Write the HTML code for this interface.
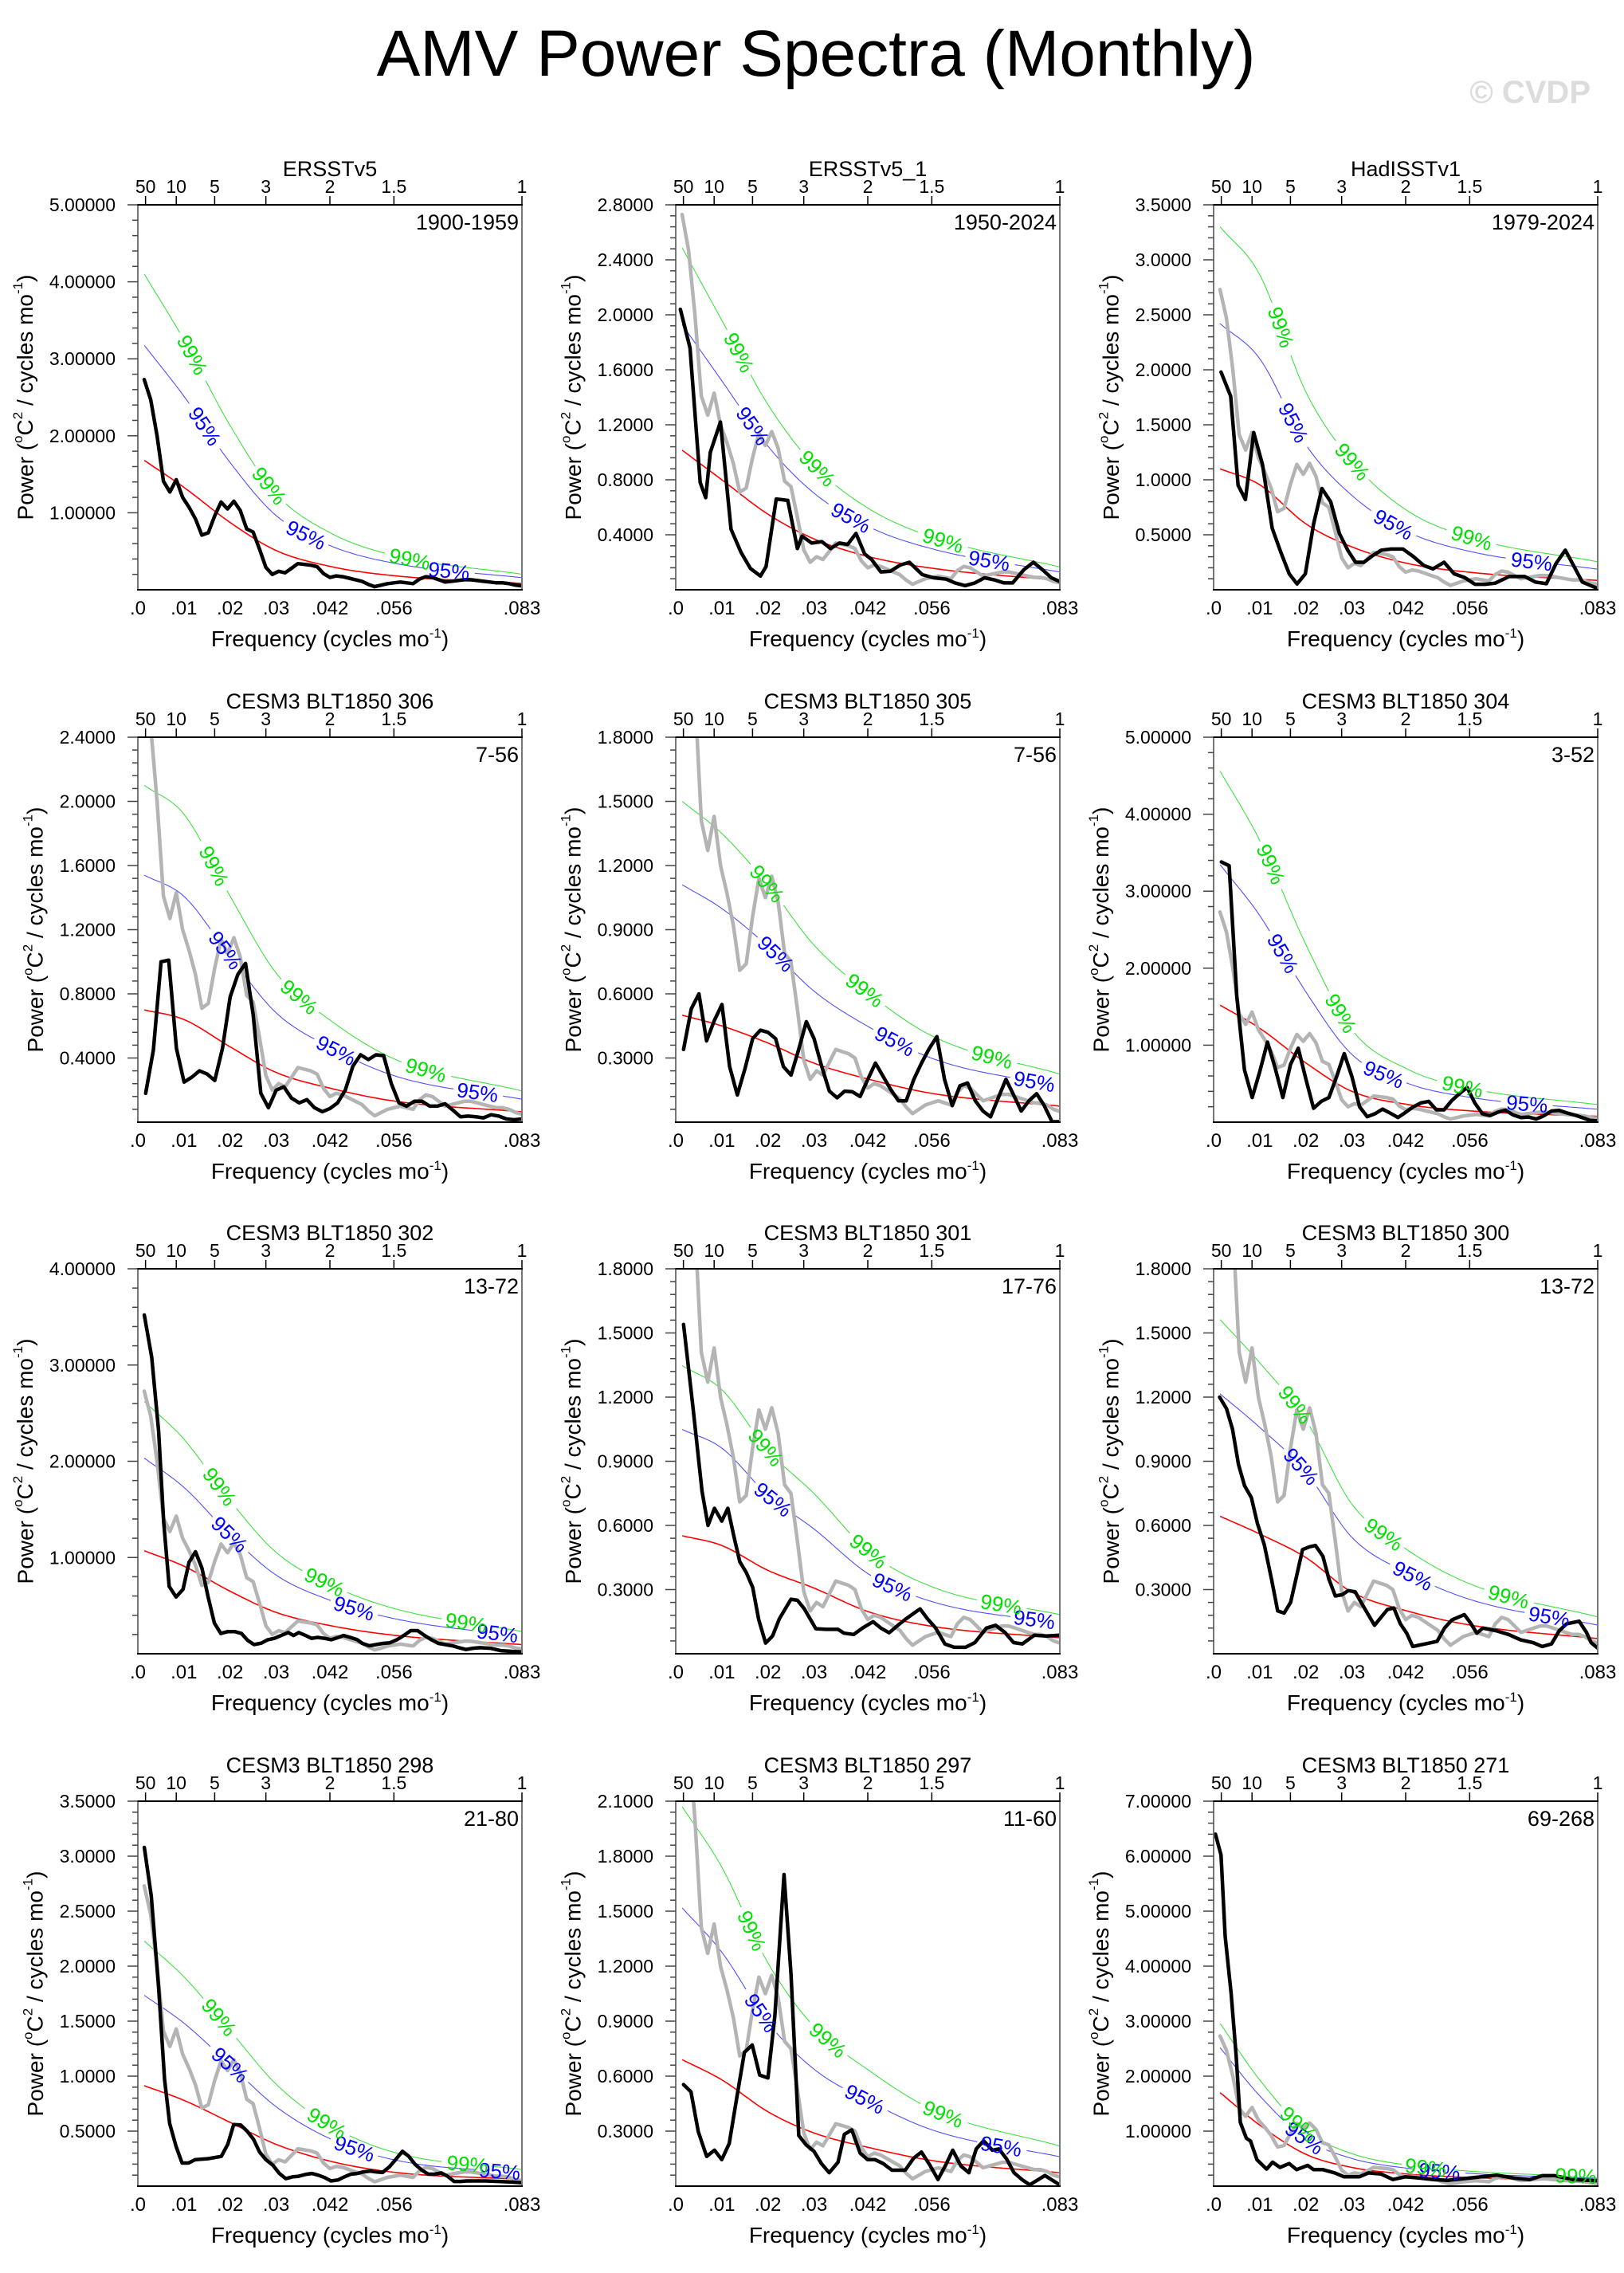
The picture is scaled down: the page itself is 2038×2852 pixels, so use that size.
<!DOCTYPE html>
<html><head><meta charset="utf-8"><title>AMV Power Spectra (Monthly)</title>
<style>
html,body{margin:0;padding:0;background:#fff;}
svg{display:block;font-family:"Liberation Sans",Arial,sans-serif;}
</style></head>
<body>
<svg id="chart" xmlns="http://www.w3.org/2000/svg" width="2038" height="2852" viewBox="0 0 2038 2852">
<rect x="0" y="0" width="2038" height="2852" fill="#fff"/>
<text x="1024" y="95" font-size="82" text-anchor="middle" fill="#000">AMV Power Spectra (Monthly)</text>
<text x="1996" y="129" font-size="40" font-weight="bold" text-anchor="end" fill="#dcdcdc">© CVDP</text>
</svg>
<script>
function linspace(a,b,n){const r=[];for(let i=0;i<n;i++)r.push(a+(b-a)*i/(n-1));return r;}

const panelNames=["ERSSTv5","ERSSTv5_1","HadISSTv1","CESM3 BLT1850 306","CESM3 BLT1850 305","CESM3 BLT1850 304","CESM3 BLT1850 302","CESM3 BLT1850 301","CESM3 BLT1850 300","CESM3 BLT1850 298","CESM3 BLT1850 297","CESM3 BLT1850 271"];
const panelYears=["1900-1959","1950-2024","1979-2024","7-56","7-56","3-52","13-72","17-76","13-72","21-80","11-60","69-268"];
const yMaxes=[5,2.8,3.5,2.4,1.8,5,4,1.8,1.8,3.5,2.1,7];
const ySteps=[1,0.4,0.5,0.4,0.3,1,1,0.3,0.3,0.5,0.3,1];
const yDecimals=[5,4,4,4,4,5,5,4,4,4,4,5];
const topPeriods=[50,10,5,3,2,1.5,1];
const bottomTickVals=[0,0.01,0.02,0.03,1/24,1/18,1/12];
const bottomTickLabels=[".0",".01",".02",".03",".042",".056",".083"];

const redAnchorFreqs=[0.0014,0.01,0.02,0.03,0.042,0.056,0.0833];
const redLevels=[
 [1.68,1.33,0.875,0.51,0.30,0.18,0.083],
 [1.015,0.80,0.55,0.37,0.24,0.155,0.068],
 [1.10,0.955,0.60,0.39,0.24,0.157,0.085],
 [0.70,0.64,0.47,0.31,0.21,0.13,0.065],
 [0.50,0.45,0.37,0.276,0.20,0.133,0.075],
 [1.52,1.22,0.77,0.40,0.23,0.145,0.076],
 [1.07,0.91,0.65,0.43,0.29,0.19,0.095],
 [0.552,0.506,0.39,0.307,0.195,0.127,0.075],
 [0.643,0.56,0.45,0.288,0.20,0.133,0.071],
 [0.913,0.78,0.58,0.38,0.224,0.124,0.062],
 [0.69,0.58,0.406,0.29,0.21,0.138,0.073],
 [1.70,1.11,0.58,0.34,0.22,0.155,0.097]
];
const ratio95=[1.89,1.9,2.2,2.2,2.22,2.2,1.9,1.9,1.89,1.9,2.2,1.48];
const ratio99=[2.44,2.45,3.0,3.0,3.0,3.0,2.45,2.44,2.43,2.44,3.0,1.74];
const label99Freqs=[[0.0118,0.0285,0.059],[0.0137,0.0307,0.058],[0.0146,0.0301,0.056],[0.0165,0.035,0.0625],[0.0198,0.041,0.0686],[0.0124,0.0276,0.054],[0.0177,0.0405,0.0712],[0.0195,0.0418,0.0706],[0.0177,0.0369,0.064],[0.0176,0.041,0.0715],[0.0165,0.033,0.058],[0.0184,0.046,0.0786]];
const label95Freqs=[[0.0145,0.0365,0.0675],[0.0167,0.038,0.068],[0.0173,0.039,0.069],[0.019,0.043,0.0737],[0.0217,0.0475,0.0778],[0.015,0.0369,0.068],[0.0199,0.0469,0.078],[0.0211,0.047,0.0778],[0.019,0.0432,0.0728],[0.02,0.047,0.0785],[0.0185,0.041,0.0706],[0.0197,0.049,0.083]];

const obsFreq=linspace(1/720,60/720,60);
const obsPow=[2.73,2.47,2.0,1.41,1.27,1.43,1.2,1.07,0.92,0.71,0.74,0.96,1.14,1.05,1.15,1.03,0.79,0.75,0.53,0.29,0.2,0.24,0.22,0.28,0.34,0.33,0.32,0.3,0.21,0.16,0.18,0.17,0.15,0.13,0.11,0.07,0.04,0.06,0.08,0.09,0.1,0.09,0.08,0.14,0.17,0.16,0.13,0.1,0.11,0.12,0.13,0.13,0.12,0.11,0.1,0.09,0.09,0.08,0.06,0.05];

const freqP2=[.001,.0031,.0053,.0065,.0075,.0097,.012,.0142,.0162,.0184,.0196,.0218,.0243,.0264,.0274,.0295,.0317,.0336,.0355,.0373,.0391,.041,.0425,.0445,.0466,.0487,.0507,.0535,.056,.0587,.0606,.0628,.0649,.067,.069,.0712,.0731,.0755,.0776,.0796,.0815,.0833];
const powP2=[2.04,1.76,.78,.67,1.0,1.22,.44,.27,.155,.1,.17,.66,.65,.3,.39,.34,.35,.3,.34,.33,.41,.26,.22,.13,.135,.18,.2,.11,.087,.077,.05,.03,.05,.087,.073,.05,.05,.145,.2,.145,.087,.06];
const freqP3=[.0016,.0037,.0053,.0069,.0087,.0106,.0127,.0146,.0164,.0181,.0199,.0217,.0235,.0254,.0273,.0291,.0308,.0326,.0345,.0364,.0385,.0411,.0434,.0456,.0476,.05,.0522,.0545,.0567,.0589,.0611,.0641,.0675,.0698,.0722,.0743,.0763,.0781,.08,.0833];
const powP3=[1.98,1.76,.95,.82,1.43,1.14,.56,.34,.145,.053,.145,.6,.92,.80,.51,.36,.25,.25,.31,.36,.37,.37,.30,.22,.19,.25,.145,.11,.05,.05,.06,.12,.12,.07,.055,.24,.36,.22,.07,.012];
const freqP4=linspace(.0017,.0833,50);
const powP4=[.18,.45,1.0,1.01,.46,.25,.28,.32,.30,.26,.46,.78,.92,.99,.67,.18,.09,.2,.22,.15,.12,.14,.09,.065,.085,.12,.2,.35,.42,.39,.42,.415,.24,.12,.1,.13,.13,.1,.1,.115,.076,.034,.038,.034,.027,.046,.038,.02,.015,.02];
const freqP5=linspace(.0017,.0833,50);
const powP5=[.34,.53,.60,.38,.475,.55,.26,.127,.25,.39,.43,.42,.39,.26,.22,.34,.47,.39,.26,.145,.114,.145,.142,.12,.2,.276,.214,.152,.1,.1,.2,.276,.344,.40,.2,.077,.17,.183,.1,.052,.025,.114,.2,.127,.052,.1,.133,.077,.002,.002];
const freqP6=linspace(.0017,.0833,50);
const powP6=[3.38,3.33,1.63,.68,.32,.66,1.04,.70,.32,.75,.96,.56,.18,.27,.32,.59,.89,.59,.2,.07,.11,.17,.117,.06,.128,.2,.25,.27,.16,.16,.28,.37,.45,.25,.11,.086,.128,.155,.093,.06,.066,.04,.083,.145,.152,.12,.093,.06,.024,.017];
const freqP7=[.0014,.003,.0045,.0056,.0068,.0083,.0098,.0111,.0125,.0139,.0152,.0166,.018,.0195,.021,.0225,.0238,.0252,.0268,.0282,.0296,.0311,.0326,.0338,.0349,.0364,.0377,.039,.0405,.042,.0435,.0446,.0461,.0476,.0487,.0502,.0517,.0532,.0547,.0562,.0577,.0592,.0607,.0622,.0637,.0652,.0667,.0682,.0697,.0712,.0727,.0742,.0765,.0787,.081,.0833];
const powP7=[3.52,3.08,2.32,1.37,.70,.59,.67,.95,1.06,.89,.6,.32,.21,.23,.23,.21,.14,.095,.11,.146,.16,.19,.22,.19,.22,.19,.16,.17,.16,.146,.17,.19,.17,.146,.108,.083,.095,.108,.114,.146,.19,.24,.24,.19,.146,.108,.095,.083,.063,.044,.057,.063,.057,.032,.025,.019];
const freqP8=[.0017,.0037,.0057,.007,.0084,.01,.0113,.0126,.0139,.0153,.0167,.018,.0195,.021,.0225,.025,.0264,.0279,.0304,.0327,.0352,.0365,.0386,.0405,.0428,.0445,.0463,.0482,.05,.053,.0546,.0564,.0584,.0604,.0629,.0649,.0674,.0694,.0714,.0733,.0752,.0778,.0804,.0833];
const powP8=[1.54,1.16,.76,.60,.68,.62,.68,.55,.43,.38,.31,.16,.05,.083,.164,.255,.25,.21,.117,.114,.114,.096,.09,.12,.15,.12,.098,.133,.164,.21,.164,.12,.046,.03,.03,.052,.12,.133,.1,.052,.046,.087,.083,.087];
const freqP9=[.0013,.0028,.0041,.0054,.0067,.0082,.0095,.011,.0126,.0139,.0153,.0167,.018,.0193,.0208,.0221,.0237,.025,.0264,.0279,.0292,.0307,.032,.0349,.0377,.0391,.0405,.0419,.0432,.0459,.0485,.0501,.0517,.0544,.0557,.0571,.0584,.0612,.064,.0666,.0693,.0713,.0733,.075,.0766,.0793,.0809,.0819,.0833];
const powP9=[1.2,1.146,1.05,.885,.786,.73,.61,.51,.344,.2,.19,.24,.363,.487,.50,.506,.456,.35,.27,.276,.295,.29,.24,.133,.207,.214,.14,.096,.034,.046,.058,.12,.158,.183,.145,.096,.12,.108,.09,.065,.052,.034,.046,.108,.14,.152,.1,.052,.027];
const freqP10=[.0014,.0029,.0045,.0058,.0069,.0083,.0096,.011,.0124,.0153,.0181,.0195,.0208,.0223,.0237,.0251,.0264,.0278,.0293,.0307,.0321,.0335,.0349,.0363,.0377,.0391,.0405,.0419,.0434,.0448,.0462,.0476,.049,.0504,.0517,.0531,.0546,.056,.0574,.0588,.0601,.0616,.063,.0644,.0658,.0672,.0686,.07,.0714,.0728,.0755,.0783,.0811,.0833];
const powP10=[3.08,2.64,1.81,.97,.57,.36,.21,.21,.24,.25,.27,.38,.56,.556,.50,.425,.31,.24,.19,.115,.068,.084,.09,.106,.115,.1,.078,.047,.056,.084,.109,.115,.13,.137,.13,.124,.177,.245,.317,.27,.2,.146,.109,.109,.12,.09,.043,.043,.047,.047,.047,.043,.037,.031];
const freqP11=[.0017,.0033,.0049,.0067,.0084,.01,.0116,.0133,.0149,.0166,.0182,.02,.0215,.0235,.025,.0267,.0283,.03,.0316,.0333,.0352,.0366,.0382,.04,.0416,.0432,.045,.0469,.0498,.0516,.0533,.0551,.0569,.0586,.0601,.0619,.0636,.0652,.0668,.0687,.0701,.0718,.0734,.0751,.0768,.0801,.0833];
const powP11=[.554,.515,.297,.162,.196,.145,.232,.49,.73,.77,.606,.59,.93,1.70,1.16,.276,.225,.19,.123,.073,.13,.283,.307,.18,.145,.145,.123,.087,.087,.152,.186,.116,.036,.116,.196,.109,.073,.203,.247,.196,.203,.148,.073,.036,.007,.058,.007];
const freqP12=[.0004,.0016,.0025,.0038,.0049,.0058,.0071,.008,.0094,.0115,.0128,.0144,.0164,.018,.0204,.0217,.0237,.0263,.0283,.0316,.0336,.0363,.0389,.0416,.0449,.0475,.0508,.0541,.0581,.0614,.0653,.0686,.0713,.074,.0779,.0833];
const powP12=[6.40,6.02,4.54,3.50,2.37,1.16,.87,.82,.48,.31,.435,.34,.41,.30,.377,.30,.30,.24,.17,.17,.24,.22,.12,.17,.145,.12,.106,.135,.17,.2,.145,.12,.19,.19,.12,.097];

const seriesFreqs=[obsFreq,freqP2,freqP3,freqP4,freqP5,freqP6,freqP7,freqP8,freqP9,freqP10,freqP11,freqP12];
const seriesPows=[obsPow,powP2,powP3,powP4,powP5,powP6,powP7,powP8,powP9,powP10,powP11,powP12];

const NS='http://www.w3.org/2000/svg';
const svg=document.getElementById('chart');
function mk(tag,attrs,parent){const e=document.createElementNS(NS,tag);for(const k in attrs)e.setAttribute(k,attrs[k]);(parent||svg).appendChild(e);return e;}

const FMAX=1/12, PW=482, PH=483;
const colLeft=[173,848,1523];
const rowTop=[257,925,1592,2260];

function monotone(xs,ys){
  const n=xs.length,d=[],m=new Array(n);
  for(let i=0;i<n-1;i++)d.push((ys[i+1]-ys[i])/(xs[i+1]-xs[i]));
  m[0]=d[0];m[n-1]=d[n-2];
  for(let i=1;i<n-1;i++){m[i]=(d[i-1]*d[i]<=0)?0:(d[i-1]+d[i])/2;}
  for(let i=0;i<n-1;i++){if(d[i]===0){m[i]=0;m[i+1]=0;continue;}const a=m[i]/d[i],b=m[i+1]/d[i],s=a*a+b*b;if(s>9){const t=3/Math.sqrt(s);m[i]=t*a*d[i];m[i+1]=t*b*d[i];}}
  return function(x){let i=0;while(i<n-2&&x>xs[i+1])i++;const h=xs[i+1]-xs[i],t=Math.max(0,Math.min(1,(x-xs[i])/h));
    const h00=2*t*t*t-3*t*t+1,h10=t*t*t-2*t*t+t,h01=-2*t*t*t+3*t*t,h11=t*t*t-t*t;
    return h00*ys[i]+h10*h*m[i]+h01*ys[i+1]+h11*h*m[i+1];};
}

for(let p=0;p<12;p++){
  const L=colLeft[p%3],T=rowTop[Math.floor(p/3)],B=T+PH,R=L+PW;
  const ymax=yMaxes[p];
  const X=f=>L+f/FMAX*PW;
  const Y=v=>B-v/ymax*PH;
  const g=mk('g',{});
  
  
  const cp=mk('clipPath',{id:'clip'+p},g);
  mk('rect',{x:L,y:T,width:PW,height:PH},cp);

  const tt=mk('text',{x:L+PW/2,y:T-36,'font-size':27,'text-anchor':'middle',fill:'#000'},g);
  tt.textContent=panelNames[p];
  
  
  const yr=mk('text',{x:R-4,y:T+31,'font-size':27,'text-anchor':'end',fill:'#000'},g);
  yr.textContent=panelYears[p];
  
  

  const red=monotone(redAnchorFreqs,redLevels[p]);
  const curveG=mk('g',{'clip-path':'url(#clip'+p+')'},g);
  const samples=[];
  for(let i=0;i<=160;i++){samples.push(redAnchorFreqs[0]+(FMAX-redAnchorFreqs[0])*i/160);}
  function curvePts(mult){return samples.map(f=>[X(f),Y(red(f)*mult)]);}
  function drawCurve(mult,color,w,labF,labText,labColor,name){
    const pts=curvePts(mult);
    const labels=(labF||[]).filter(f=>X(f)<R-20).map(f=>{const x0=X(f-0.0008),x1=X(f+0.0008),y0=Y(red(f-0.0008)*mult),y1=Y(red(f+0.0008)*mult);
      return {x:X(f),y:Y(red(f)*mult),a:Math.atan2(y1-y0,x1-x0)*180/Math.PI};});
    let seg=[];const segs=[];
    pts.forEach(pt=>{const hide=labels.some(l=>Math.hypot(pt[0]-l.x,pt[1]-l.y)<30);
      if(hide){if(seg.length>1)segs.push(seg);seg=[];}else seg.push(pt);});
    if(seg.length>1)segs.push(seg);
    segs.forEach(s=>{const pl=mk('polyline',{points:s.map(q=>q[0].toFixed(1)+','+q[1].toFixed(1)).join(' '),fill:'none',stroke:color,'stroke-width':w},curveG);
      
      });
    labels.forEach(l=>{const t=mk('text',{x:l.x,y:l.y+9,'font-size':26,'text-anchor':'middle',fill:labColor,transform:'rotate('+l.a.toFixed(1)+' '+l.x.toFixed(1)+' '+l.y.toFixed(1)+')'},g);
      t.textContent=labText;
      
      });
  }
  drawCurve(1,'#ff0000',1.6,null,'','','red-noise-curve');
  drawCurve(ratio95[p],'#5050ff',1.1,label95Freqs[p],'95%','#0000ff','significance-95-curve');
  drawCurve(ratio99[p],'#40e040',1.1,label99Freqs[p],'99%','#00e000','significance-99-curve');

  function drawSeries(fs,vs,color,w,name){
    const pl=mk('polyline',{points:fs.map((f,i)=>X(f).toFixed(1)+','+Y(vs[i]).toFixed(1)).join(' '),fill:'none',stroke:color,'stroke-width':w,'stroke-linejoin':'round','stroke-linecap':'round'},curveG);
    
    
  }
  if(p>0)drawSeries(obsFreq,obsPow,'#b4b4b4',4.5,'observed-reference-spectrum');
  drawSeries(seriesFreqs[p],seriesPows[p],'#000',4.5,'power-spectrum-line');

  const ax=mk('g',{},g);
  
  
  mk('line',{x1:L,y1:T,x2:L,y2:B,stroke:'#777',"stroke-width":2},ax);
  mk('line',{x1:R,y1:T,x2:R,y2:B,stroke:'#777',"stroke-width":2},ax);
  mk('line',{x1:L-1,y1:T,x2:R+1,y2:T,stroke:'#000',"stroke-width":2},ax);
  mk('line',{x1:L-1,y1:B,x2:R+1,y2:B,stroke:'#000',"stroke-width":2},ax);

  const step=ySteps[p],nMaj=Math.round(ymax/step);
  for(let k=1;k<=nMaj*5;k++){const v=k*step/5;if(v>ymax+1e-9)break;const yy=Y(v);const major=(k%5===0);
    mk('line',{x1:L-(major?13:7),y1:yy,x2:L,y2:yy,stroke:'#444','stroke-width':1.5},ax);
    if(major){const t=mk('text',{x:L-28,y:yy+8,'font-size':23,'text-anchor':'end',fill:'#000'},g);
      t.textContent=(k/5*step).toFixed(yDecimals[p]);
      
      }}
  const labLen=((yDecimals[p]+1)*0.556+0.278)*23;
  const cx=L-28-labLen-28, cy=T+PH/2;
  const yt=mk('text',{x:cx,y:cy,'font-size':28,'text-anchor':'middle',fill:'#000',transform:'rotate(-90 '+cx+' '+cy+')','dominant-baseline':'middle'},g);
  yt.innerHTML='Power (<tspan dy="-10" font-size="17">o</tspan><tspan dy="10">C</tspan><tspan dy="-10" font-size="17">2</tspan><tspan dy="10"> / cycles mo</tspan><tspan dy="-10" font-size="17">-1</tspan><tspan dy="10">)</tspan>';
  
  

  topPeriods.forEach(per=>{const xx=X(1/(12*per));
    mk('line',{x1:xx,y1:T-11,x2:xx,y2:T,stroke:'#000','stroke-width':1.5},ax);
    const t=mk('text',{x:xx,y:T-15,'font-size':23,'text-anchor':'middle',fill:'#000'},g);
    t.textContent=String(per);
    
    });
  bottomTickVals.forEach((f,i)=>{const t=mk('text',{x:X(f),y:B+31,'font-size':24,'text-anchor':'middle',fill:'#000'},g);
    t.textContent=bottomTickLabels[i];
    
    });
  const xt=mk('text',{x:L+PW/2,y:B+71,'font-size':28,'text-anchor':'middle',fill:'#000'},g);
  xt.innerHTML='Frequency (cycles mo<tspan dy="-11" font-size="17">-1</tspan><tspan dy="11">)</tspan>';
  
  
}
</script>
</body></html>
